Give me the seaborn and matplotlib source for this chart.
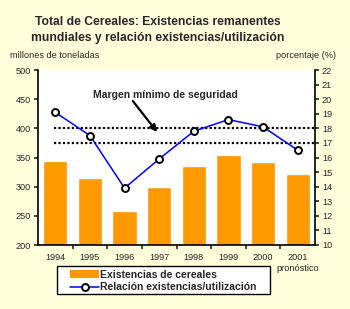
import numpy as np
import pandas as pd
import matplotlib
matplotlib.use("Agg")
import matplotlib.pyplot as plt
from matplotlib.patches import Patch, Rectangle
from matplotlib.lines import Line2D
import seaborn as sns

years = ["1994", "1995", "1996", "1997", "1998", "1999", "2000", "2001"]
year_labels = ["1994", "1995", "1996", "1997", "1998", "1999", "2000", "2001\npronóstico"]
stocks = [344, 315, 258, 299, 335, 354, 342, 322]          # millones de toneladas
ratio = [19.1, 17.5, 13.9, 15.9, 17.8, 18.6, 18.1, 16.5]   # porcentaje (%)
safety_band = [17, 18]

sns.set_style("white")
plt.rcParams["font.family"] = ["Liberation Sans", "DejaVu Sans"]

bg = "#FFFFDC"
fig = plt.figure(figsize=(3.5, 3.09), dpi=100, facecolor=bg)
ax = fig.add_axes([38 / 350, 1 - 245 / 309, 277 / 350, 175 / 309])
ax.set_facecolor("white")

df = pd.DataFrame({"year": years, "stocks": stocks})
sns.barplot(data=df, x="year", y="stocks", color="#FF9900", saturation=1,
            width=0.7, ax=ax)
ax.set_ylim(200, 500)
ax.set_xlim(-0.5, len(years) - 0.5)
ax.set_yticks(np.arange(200, 501, 50))
ax.set_xlabel("")
ax.set_ylabel("")

ax2 = ax.twinx()
for v in safety_band:
    ax2.axhline(v, xmin=0.058, xmax=1, color="black", lw=1.6, ls=(0, (1, 1)))
sns.lineplot(x=np.arange(len(years)), y=ratio, ax=ax2, color="#0000FF", lw=1.1,
             marker="o", markersize=5, markerfacecolor="white",
             markeredgecolor="black", markeredgewidth=1.4)
ax2.set_ylim(10, 22)
ax2.set_yticks(np.arange(10, 23, 1))

# ejes
for a in (ax, ax2):
    a.spines["top"].set_visible(False)
    for side in ("left", "right", "bottom"):
        a.spines[side].set_color("black")
        a.spines[side].set_linewidth(1.2)
ax.spines["right"].set_visible(False)
ax2.spines["left"].set_visible(False)
ax2.spines["bottom"].set_visible(False)

ax.tick_params(axis="y", direction="out", length=3, width=1.2, labelsize=6.6, pad=2, left=True)
ax2.tick_params(axis="y", direction="out", length=3, width=1.2, labelsize=6.6, pad=2, right=True)
ax.set_xticks(np.arange(len(years)))
ax.set_xticklabels(year_labels, fontsize=6.6, linespacing=1.2, va="top")
ax.tick_params(axis="x", which="major", length=0, pad=6)
ax.set_xticks(np.arange(len(years) - 1) + 0.5, minor=True)
ax.tick_params(axis="x", which="minor", direction="out", length=3, width=1.2, bottom=True)

ax2.text(3.18, 20.3, "Margen mínimo de seguridad", ha="center", va="center",
         fontsize=7.5, fontweight="bold")
ax2.annotate("", xy=(2.94, 17.75), xytext=(2.24, 19.87),
             arrowprops=dict(arrowstyle="-|>", color="black", lw=1.6,
                             shrinkA=0, shrinkB=0, mutation_scale=10))

fig.text(158 / 350, 1 - 16 / 309,
         "Total de Cereales: Existencias remanentes\nmundiales y relación existencias/utilización",
         ha="center", va="top", fontsize=8.7, fontweight="bold", linespacing=1.5)
fig.text(10 / 350, 1 - 55 / 309, "millones de toneladas", ha="left", va="center", fontsize=6.6)
fig.text(336 / 350, 1 - 55 / 309, "porcentaje (%)", ha="right", va="center", fontsize=6.6)

# recuadro de la leyenda
fig.patches.append(Rectangle((57 / 350, 1 - 294 / 309), 213 / 350, 28 / 309,
                             transform=fig.transFigure, facecolor="white",
                             edgecolor="black", lw=1.0, zorder=0))
handles = [Patch(facecolor="#FF9900", edgecolor="none"),
           Line2D([], [], color="#0000FF", lw=1.1, marker="o", markersize=5,
                  markerfacecolor="white", markeredgecolor="black", markeredgewidth=1.4)]
leg = fig.legend(handles, ["Existencias de cereales", "Relación existencias/utilización"],
                 loc="center left", bbox_to_anchor=(70 / 350, 1 - 281 / 309),
                 prop={"weight": "bold", "size": 7.5}, frameon=False,
                 handlelength=2.8, handleheight=0.8, handletextpad=0.05,
                 borderpad=0, labelspacing=0.25, borderaxespad=0)

fig.savefig("out.png", dpi=100, facecolor=bg)
